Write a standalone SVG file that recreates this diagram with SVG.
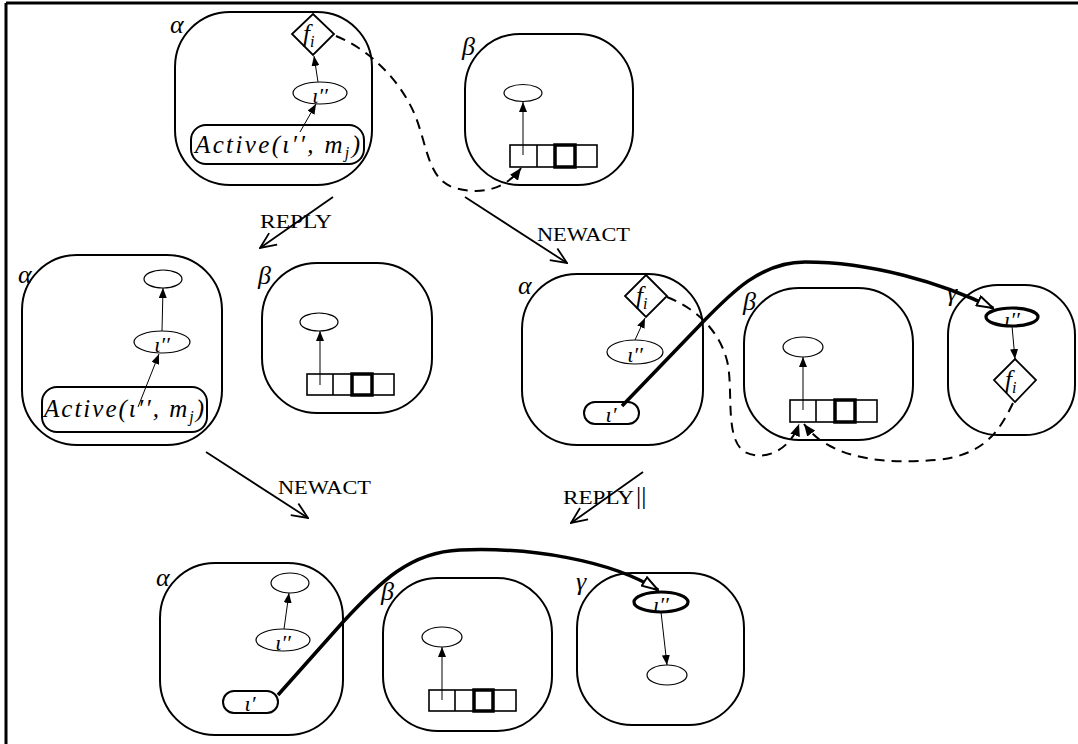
<svg xmlns="http://www.w3.org/2000/svg" width="1078" height="744" viewBox="0 0 1078 744">
<style>
.box{fill:none;stroke:#000;stroke-width:2}
.el{fill:#fff;stroke:#000;stroke-width:1.2}
.elb{fill:#fff;stroke:#000;stroke-width:3.2}
.dia{fill:#fff;stroke:#000;stroke-width:1.8}
.q{fill:#fff;stroke:#000;stroke-width:1.6}
.qb{fill:none;stroke:#000;stroke-width:3.5}
.thin{fill:none;stroke:#000;stroke-width:1}
.tr{fill:none;stroke:#000;stroke-width:1.8}
.thick{fill:none;stroke:#000;stroke-width:3.5}
.dash{fill:none;stroke:#000;stroke-width:2;stroke-dasharray:10 7}
.m{font-family:"Liberation Serif",serif;font-style:italic;fill:#000}
.g{font-family:"Liberation Serif",serif;font-style:italic;font-size:26px;fill:#000}
.lab{font-family:"Liberation Serif",serif;font-size:19px;fill:#000}
</style>
<defs>
<marker id="fa" viewBox="0 0 10 8" refX="10" refY="4" markerWidth="10" markerHeight="8" orient="auto" markerUnits="userSpaceOnUse"><path d="M0,0 L10,4 L0,8 z" fill="#000"/></marker>
<marker id="da" viewBox="0 0 12 10" refX="12" refY="5" markerWidth="12" markerHeight="10" orient="auto" markerUnits="userSpaceOnUse"><path d="M0,0 L12,5 L0,10 z" fill="#000"/></marker>
<marker id="va" viewBox="0 0 18 16" refX="17" refY="8" markerWidth="18" markerHeight="16" orient="auto" markerUnits="userSpaceOnUse"><path d="M1,1 L17,8 L1,15" fill="none" stroke="#000" stroke-width="1.8"/></marker>
<marker id="ha" viewBox="0 0 18 12" refX="17" refY="6" markerWidth="18" markerHeight="12" orient="auto" markerUnits="userSpaceOnUse"><path d="M1,1 L17,6 L1,11 z" fill="#fff" stroke="#000" stroke-width="2"/></marker>
</defs>
<rect width="1078" height="744" fill="#fff"/>
<g id="frame"><path d="M6,3 H1078 M6,3 V744" stroke="#000" stroke-width="3" fill="none"/></g>

<g id="alpha1">
<rect class="box" x="175" y="12" width="197" height="173" rx="55"/>
<text class="g" x="170" y="33">α</text>
<path class="dia" d="M313,14 L334,34 L313,55 L292,34 z"/>
<text class="m" font-size="25" x="303" y="42">f<tspan font-size="16" dy="5">i</tspan></text>
<ellipse class="el" cx="320" cy="93" rx="27" ry="11"/>
<text class="m" font-size="22" x="320" y="103" text-anchor="middle">ι′′</text>
<rect class="box" x="191" y="125" width="173" height="39" rx="15"/>
<text class="m" font-size="25" x="195" y="153" textLength="165" lengthAdjust="spacing">Active(ι′′, m<tspan font-size="16" dy="5">j</tspan><tspan dy="-5">)</tspan></text>
</g>

<g id="beta1">
<rect class="box" x="465" y="34" width="168" height="151" rx="55"/>
<text class="g" x="462" y="55">β</text>
<ellipse class="el" cx="523" cy="93" rx="19" ry="8.5"/>
<rect class="q" x="510" y="145" width="87" height="22"/>
<path class="q" d="M537,145 V167 M575,145 V167"/>
<rect class="qb" x="555" y="145" width="20" height="22"/>
</g>

<g id="alpha2">
<rect class="box" x="22" y="255" width="200" height="190" rx="55"/>
<text class="g" x="18" y="283">α</text>
<ellipse class="el" cx="163" cy="279" rx="19" ry="9"/>
<ellipse class="el" cx="162" cy="342" rx="28" ry="11"/>
<text class="m" font-size="22" x="162" y="352" text-anchor="middle">ι′′</text>
<rect class="box" x="42" y="387" width="165" height="45" rx="15"/>
<text class="m" font-size="25" x="44" y="417" textLength="160" lengthAdjust="spacing">Active(ι′′, m<tspan font-size="16" dy="5">j</tspan><tspan dy="-5">)</tspan></text>
</g>

<g id="beta2">
<rect class="box" x="262" y="263" width="170" height="150" rx="55"/>
<text class="g" x="258" y="284">β</text>
<ellipse class="el" cx="319" cy="322" rx="19" ry="9"/>
<rect class="q" x="307" y="374" width="87" height="21"/>
<path class="q" d="M333,374 V395 M372,374 V395"/>
<rect class="qb" x="352" y="374" width="20" height="21"/>
</g>

<g id="alpha3">
<rect class="box" x="522" y="274" width="181" height="171" rx="55"/>
<text class="g" x="518" y="294">α</text>
<path class="dia" d="M646,275 L667,296 L646,317 L625,296 z"/>
<text class="m" font-size="25" x="636" y="304">f<tspan font-size="16" dy="5">i</tspan></text>
<ellipse class="el" cx="635" cy="352" rx="28" ry="12"/>
<text class="m" font-size="22" x="635" y="362" text-anchor="middle">ι′′</text>
<rect class="box" x="584" y="402" width="55" height="22" rx="11"/>
<text class="m" font-size="22" x="611" y="422" text-anchor="middle">ι′</text>
</g>

<g id="beta3">
<rect class="box" x="744" y="288" width="169" height="152" rx="55"/>
<text class="g" x="743" y="310">β</text>
<ellipse class="el" cx="803" cy="347" rx="20" ry="10"/>
<rect class="q" x="790" y="400" width="87" height="22"/>
<path class="q" d="M816,400 V422 M855,400 V422"/>
<rect class="qb" x="835" y="400" width="20" height="22"/>
</g>

<g id="gamma3">
<rect class="box" x="948" y="285" width="127" height="150" rx="50"/>
<text class="g" x="947" y="301">γ</text>
<ellipse class="elb" cx="1012" cy="317" rx="26" ry="9"/>
<text class="m" font-size="22" x="1012" y="327" text-anchor="middle">ι′′</text>
<path class="dia" d="M1015,359 L1036,380 L1015,402 L994,380 z"/>
<text class="m" font-size="25" x="1005" y="388">f<tspan font-size="16" dy="5">i</tspan></text>
</g>

<g id="alpha4">
<rect class="box" x="160" y="563" width="183" height="172" rx="55"/>
<text class="g" x="156" y="586">α</text>
<ellipse class="el" cx="290" cy="583" rx="19" ry="10"/>
<ellipse class="el" cx="283" cy="640" rx="27" ry="11"/>
<text class="m" font-size="22" x="283" y="650" text-anchor="middle">ι′′</text>
<rect class="box" x="223" y="691" width="55" height="22" rx="11"/>
<text class="m" font-size="22" x="250" y="711" text-anchor="middle">ι′</text>
</g>

<g id="beta4">
<rect class="box" x="383" y="578" width="169" height="153" rx="55"/>
<text class="g" x="381" y="600">β</text>
<ellipse class="el" cx="442" cy="637" rx="20" ry="10"/>
<rect class="q" x="429" y="690" width="87" height="21"/>
<path class="q" d="M455,690 V711 M493,690 V711"/>
<rect class="qb" x="474" y="690" width="19" height="21"/>
</g>

<g id="gamma4">
<rect class="box" x="577" y="573" width="167" height="152" rx="55"/>
<text class="g" x="576" y="590">γ</text>
<ellipse class="elb" cx="661" cy="602" rx="27" ry="10"/>
<text class="m" font-size="22" x="661" y="612" text-anchor="middle">ι′′</text>
<ellipse class="el" cx="667" cy="675" rx="20" ry="10"/>
</g>

<g id="connectors">
<line class="thin" x1="318" y1="82" x2="314" y2="56" marker-end="url(#fa)"/>
<line class="thin" x1="300" y1="132" x2="316" y2="104" marker-end="url(#fa)"/>
<line class="thin" x1="523" y1="155" x2="523" y2="102" marker-end="url(#fa)"/>
<line class="thin" x1="162" y1="331" x2="163" y2="288" marker-end="url(#fa)"/>
<line class="thin" x1="138" y1="407" x2="159" y2="354" marker-end="url(#fa)"/>
<line class="thin" x1="320" y1="385" x2="320" y2="331" marker-end="url(#fa)"/>
<line class="thin" x1="635" y1="340" x2="645" y2="318" marker-end="url(#fa)"/>
<line class="thin" x1="803" y1="410" x2="803" y2="357" marker-end="url(#fa)"/>
<line class="thin" x1="1012" y1="326" x2="1015" y2="359" marker-end="url(#fa)"/>
<line class="thin" x1="284" y1="629" x2="289" y2="593" marker-end="url(#fa)"/>
<line class="thin" x1="442" y1="700" x2="442" y2="647" marker-end="url(#fa)"/>
<line class="thin" x1="661" y1="612" x2="667" y2="665" marker-end="url(#fa)"/>

<line class="tr" x1="333" y1="197" x2="260" y2="248" marker-end="url(#va)"/>
<line class="tr" x1="465" y1="197" x2="567" y2="263" marker-end="url(#va)"/>
<line class="tr" x1="206" y1="452" x2="308" y2="518" marker-end="url(#va)"/>
<line class="tr" x1="643" y1="472" x2="571" y2="523" marker-end="url(#va)"/>

<path class="dash" d="M336,36 C370,50 400,80 415,115 C428,148 428,180 455,188 C480,195 505,190 521,168" marker-end="url(#da)"/>
<path class="dash" d="M667,297 C700,310 722,335 728,365 C733,395 725,440 745,452 C765,462 790,450 799,424" marker-end="url(#da)"/>
<path class="dash" d="M1013,403 C1000,430 985,455 937,460 C900,463 860,462 830,446 C818,440 810,432 804,424" marker-end="url(#da)"/>

<path class="thick" d="M622,406 L700,325 C730,294 760,262 805,262 C870,262 940,282 993,308" marker-end="url(#ha)"/>
<path class="thick" d="M278,695 L343,622 C380,582 410,552 460,550 C530,547 610,560 658,590" marker-end="url(#ha)"/>

<text class="lab" x="260" y="228" textLength="72" lengthAdjust="spacingAndGlyphs">REPLY</text>
<text class="lab" x="537" y="241" textLength="93" lengthAdjust="spacingAndGlyphs">NEWACT</text>
<text class="lab" x="278" y="494" textLength="93" lengthAdjust="spacingAndGlyphs">NEWACT</text>
<text class="lab" x="563" y="504"><tspan textLength="71" lengthAdjust="spacingAndGlyphs">REPLY</tspan><tspan x="636" font-size="26">||</tspan></text>
</g>
</svg>
